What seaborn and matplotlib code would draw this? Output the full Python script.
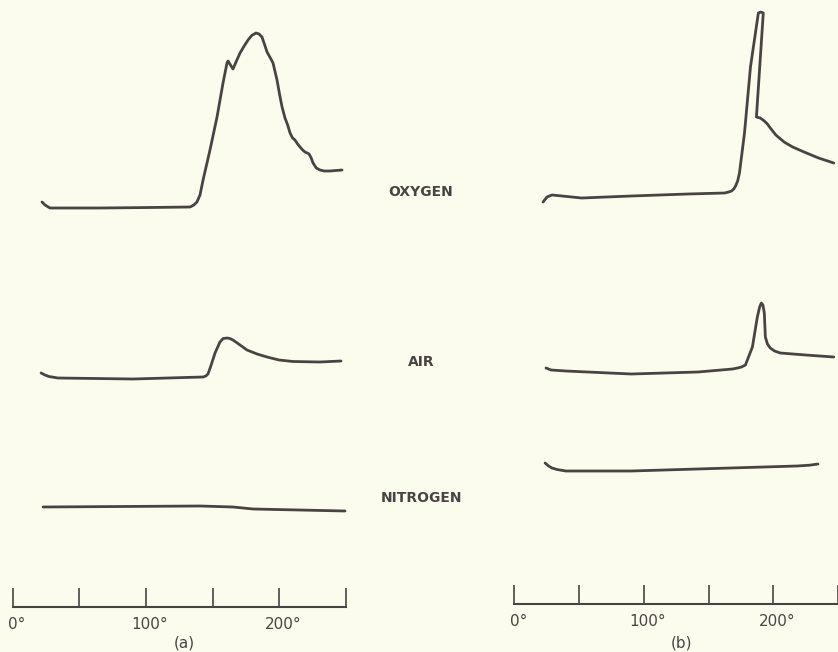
import matplotlib
matplotlib.use("Agg")
import matplotlib.pyplot as plt
import matplotlib.transforms as mtransforms
import pandas as pd
import seaborn as sns

# ---- Panel (a): deflection vs. temperature (deg) ----
a_oxygen_temp = [21.8, 24.1, 27.8, 65.4, 103.0, 133.1, 136.0, 138.3, 140.6, 142.9,
                 148.1, 153.4, 157.9, 160.9, 161.7, 163.5, 165.4, 168.0, 170.7, 173.8,
                 176.7, 179.5, 182.7, 185.0, 187.2, 189.0, 191.0, 193.5, 195.5, 198.5,
                 200.5, 202.3, 204.5, 206.5, 208.3, 210.2, 212.0, 214.0, 215.8, 217.8,
                 219.5, 221.2, 222.6, 224.2, 225.6, 228.0, 230.8, 234.0, 238.3, 247.4]
a_oxygen_signal = [6, 3, 0, 0, 0.5, 1, 3, 6, 13, 28,
                   58, 91, 125, 145, 147, 143, 139, 147, 155, 162,
                   168, 172.5, 175, 174, 171, 164, 156, 150, 145, 128,
                   113, 101, 90, 83, 75, 70, 68, 64, 61, 58,
                   56, 55, 54, 50, 45, 40, 38, 37, 37, 38]

a_air_temp = [21.1, 24.0, 27.0, 33.8, 90.2, 142.9, 145.0, 146.6, 149.0, 151.9,
              155.6, 158.0, 160.9, 163.0, 165.4, 170.7, 175.9, 183.5, 191.0, 200.0,
              210.5, 230.8, 246.6]
a_air_signal = [6, 4, 2.5, 1, 0, 2, 3, 5, 14, 26,
                37, 40.5, 41, 40.5, 39, 34, 29, 25, 22, 19,
                17.5, 17, 18]

a_nitrogen_temp = [22.6, 140.6, 165.4, 180.5, 249.6]
a_nitrogen_signal = [4, 5, 4, 2, 0]

# ---- Panel (b) ----
b_oxygen_temp = [22.2, 25.3, 29.1, 36.8, 52.1, 90.4, 134.1, 162.5, 165.5, 167.8,
                 169.5, 170.9, 172.5, 173.9, 177.8, 182.4, 188.5, 190.4, 192.3, 187.0,
                 190.0, 193.1, 195.5, 197.7, 202.0, 208.4, 215.0, 223.8, 235.0, 246.7]
b_oxygen_signal = [-6, -1, 1, 0, -2, 0, 2, 3, 4, 5,
                   7, 10, 15, 23, 63, 129, 183, 184, 183, 79,
                   78, 75, 72, 68, 61, 54, 49, 44, 38, 33]

b_air_temp = [24.5, 28.4, 39.8, 90.4, 141.8, 168.6, 172.4, 175.5, 178.5, 183.9,
              187.7, 189.5, 190.8, 192.0, 193.1, 193.9, 195.5, 197.7, 201.0, 205.4,
              225.0, 246.7]
b_air_signal = [6, 4, 3, 0, 2, 5, 6, 7, 9, 27,
                57, 67, 71, 69, 61, 37, 30, 26, 23, 21,
                19, 17]

b_nitrogen_temp = [23.8, 26.5, 29.1, 33.0, 39.8, 90.4, 167.0, 218.4, 228.0, 234.5]
b_nitrogen_signal = [8, 5, 3, 1.5, 0, 0, 3, 5, 5.8, 7]

gas_labels = ["OXYGEN", "AIR", "NITROGEN"]
scale_ticks = [0, 50, 100, 150, 200, 250]
scale_labels = ["0°", "", "100°", "", "200°", ""]
panel_labels = ["(a)", "(b)"]

# ---- styling ----
paper = "#fcfcee"
ink = "#4a4343"

sns.set_theme(style="white")
plt.rcParams["font.family"] = ["DejaVu Sans"]

fig = plt.figure(figsize=(8.38, 6.52), dpi=100, facecolor=paper)

panels = [
    dict(rect=[0, 0, 420 / 838, 1], xlim=(-9.77, 306.0), bar_y=45,
         traces=[(a_oxygen_temp, a_oxygen_signal, 444),
                 (a_air_temp, a_air_signal, 273),
                 (a_nitrogen_temp, a_nitrogen_signal, 141)]),
    dict(rect=[420 / 838, 0, 418 / 838, 1], xlim=(-72.8, 247.5), bar_y=48,
         traces=[(b_oxygen_temp, b_oxygen_signal, 456),
                 (b_air_temp, b_air_signal, 278),
                 (b_nitrogen_temp, b_nitrogen_signal, 181)]),
]

for panel, plabel in zip(panels, panel_labels):
    ax = fig.add_axes(panel["rect"])
    ax.set_facecolor(paper)
    ax.set_xlim(*panel["xlim"])
    ax.set_ylim(0, 652)

    for temps, signal, base in panel["traces"]:
        df = pd.DataFrame({"temp": temps,
                           "level": [base + s for s in signal]})
        sns.lineplot(data=df, x="temp", y="level", sort=False, estimator=None,
                     color=ink, lw=2.0, ax=ax, solid_capstyle="round",
                     solid_joinstyle="round")

    # temperature scale bar drawn with the x axis
    for side in ("top", "right", "left"):
        ax.spines[side].set_visible(False)
    ax.spines["bottom"].set_position(("data", panel["bar_y"]))
    ax.spines["bottom"].set_bounds(0, 250)
    ax.spines["bottom"].set_color(ink)
    ax.spines["bottom"].set_linewidth(1.5)
    ax.set_yticks([])
    ax.set_xticks(scale_ticks, scale_labels)
    ax.tick_params(axis="x", direction="in", length=14, width=1.2, color=ink,
                   labelcolor=ink, labelsize=11, pad=7, bottom=True)
    shift = mtransforms.ScaledTranslation(4 / 100, 0, fig.dpi_scale_trans)
    for lab in ax.get_xticklabels():
        lab.set_transform(lab.get_transform() + shift)
    ax.set_xlabel("")
    ax.set_ylabel("")
    ax.text(129, 9, plabel, ha="center", va="center", fontsize=11, color=ink)

# gas names between the panels
for name, ypx in zip(gas_labels, [192.5, 362, 498.5]):
    fig.text(421 / 838, 1 - ypx / 652, name, ha="center", va="center",
             fontsize=10, fontweight="bold", color=ink)

fig.savefig("out.png", dpi=100, facecolor=paper)
